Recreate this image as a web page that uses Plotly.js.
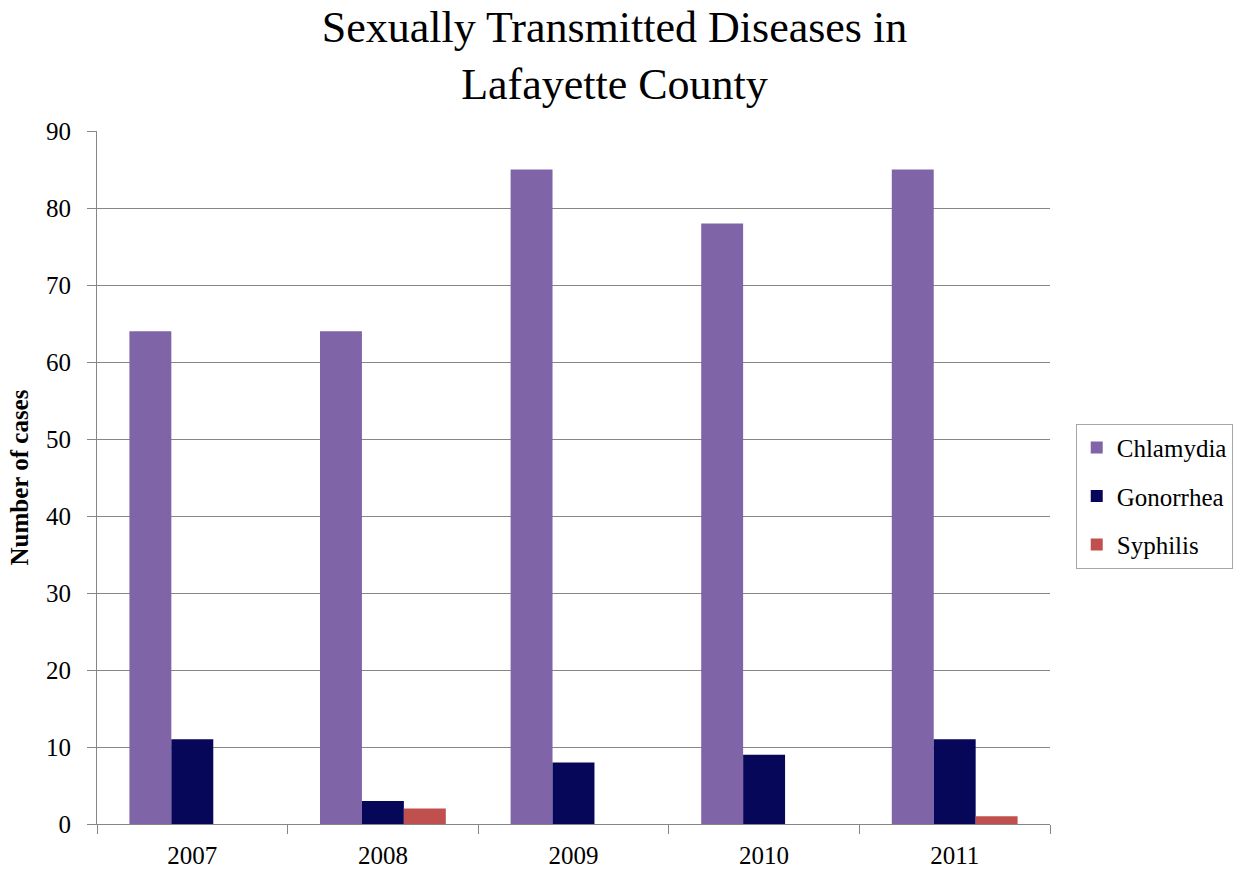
<!DOCTYPE html>
<html>
<head>
<meta charset="utf-8">
<script src="https://cdn.plot.ly/plotly-3.0.1.min.js"></script>
<style>
  html, body { margin: 0; padding: 0; background: #ffffff; }
  #chart { width: 1249px; height: 871px; }
</style>
</head>
<body>
<div id="chart"></div>
<script>
// Reported cases per year in Lafayette County
const years = ["2007", "2008", "2009", "2010", "2011"];
const chlamydia = [64, 64, 85, 78, 85];
const gonorrhea = [11, 3, 8, 9, 11];
const syphilis = [0, 2, 0, 0, 1];

const serif = "'Liberation Serif', 'DejaVu Serif', serif";

function barTrace(name, values, fill) {
  return {
    type: "bar",
    name: name,
    x: years,
    y: values,
    legendgroup: name,
    marker: { color: fill, line: { width: 0 } },
    hoverinfo: "x+y+name"
  };
}

const data = [
  barTrace("Chlamydia", chlamydia, "#8064a8"),
  barTrace("Gonorrhea", gonorrhea, "#07075a"),
  barTrace("Syphilis", syphilis, "#c0504d")
];

const layout = {
  width: 1249,
  height: 871,
  paper_bgcolor: "#ffffff",
  plot_bgcolor: "#ffffff",
  margin: { l: 97, r: 199, t: 131, b: 47 },
  barmode: "group",
  bargap: 0.34,
  bargroupgap: 0,
  font: { family: serif, color: "#000000", size: 25 },
  title: {
    text: "Sexually Transmitted Diseases in<br>Lafayette County",
    font: { family: serif, size: 44, color: "#000000" },
    x: 0.492,
    xanchor: "center",
    yref: "container",
    y: 0.952,
    yanchor: "middle"
  },
  xaxis: {
    type: "category",
    showline: true,
    linecolor: "#868686",
    linewidth: 1,
    ticks: "outside",
    tickson: "boundaries",
    ticklen: 9,
    tickcolor: "#868686",
    ticklabelstandoff: 9,
    showgrid: false,
    tickfont: { family: serif, size: 25 },
    fixedrange: true
  },
  yaxis: {
    range: [0, 90],
    dtick: 10,
    showline: true,
    linecolor: "#868686",
    linewidth: 1,
    ticks: "outside",
    ticklen: 9,
    tickcolor: "#868686",
    ticklabelstandoff: 11,
    showgrid: true,
    gridcolor: "#868686",
    gridwidth: 1,
    zeroline: false,
    tickfont: { family: serif, size: 25 },
    title: {
      text: "<b>Number of cases</b>",
      font: { family: serif, size: 25 },
      standoff: 10
    },
    fixedrange: true
  },
  legend: {
    x: 1.027,
    xanchor: "left",
    y: 0.473,
    yanchor: "middle",
    bgcolor: "#ffffff",
    bordercolor: "#a6a6a6",
    borderwidth: 1,
    font: { family: serif, size: 25, color: "#000000" },
    tracegroupgap: 13,
    itemwidth: 30
  },
  showlegend: true
};

Plotly.newPlot("chart", data, layout, { displayModeBar: false, staticPlot: true });
</script>
</body>
</html>
